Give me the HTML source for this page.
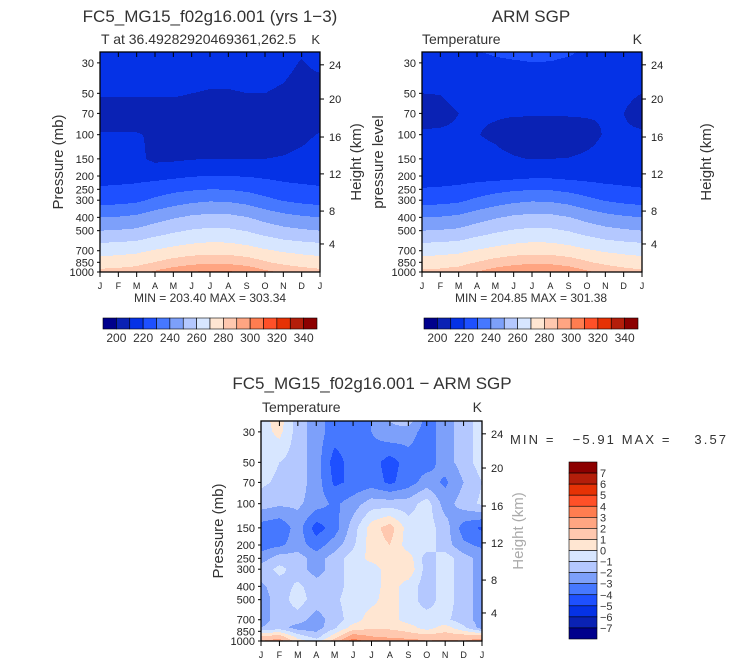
<!DOCTYPE html>
<html><head><meta charset="utf-8">
<style>
html,body{margin:0;padding:0;background:#fff;}
#root{position:relative;width:733px;height:665px;overflow:hidden;font-family:"Liberation Sans",sans-serif;}
canvas{position:absolute;image-rendering:pixelated;}
svg{position:absolute;left:0;top:0;}
svg text{white-space:pre;}
</style></head>
<body>
<div id="root">
<canvas id="c1" width="220" height="220" style="left:100px;top:52px"></canvas>
<canvas id="c2" width="220" height="220" style="left:422px;top:52px"></canvas>
<canvas id="c3" width="221" height="220" style="left:261px;top:421px"></canvas>
<svg id="ov" width="733" height="665"></svg>
</div>
<script>
const months=['J','F','M','A','M','J','J','A','S','O','N','D','J'];
const modelLevels=[25,30,50,70,100,150,200,250,300,400,500,700,850,1000];
const modelT=[
[216,216,216,216,216,216,216,216,216,216,214,211,213],
[214,214,214,214,214,214,213,213,213,213,212,209.5,212],
[211,211,211,211,211,210,209.5,209.5,210,210,209,207,206],
[206,206,206,206,206,206,206,206,206,206,206,206,206],
[210.5,210.5,210.5,209,207,205,204,204,205,206,207,208.5,210.5],
[213,213,212,208,208.5,209.5,210,210,210,210,210.5,211.5,213],
[217,217,217,217,218,219.5,220,220,219.5,218.5,217.5,217,217],
[221,221.5,222.5,225,227.5,229,230,229.7,228,225.5,223.2,222,221],
[226,226.6,228,231.9,235.1,237.7,239,238.6,236.4,232.5,229.3,227.3,226],
[240,240.6,242,245.9,249.1,251.7,253,252.6,250.4,246.5,243.3,241.3,240],
[250,250.6,251.8,255.4,258.4,260.8,262,261.6,259.6,256,253,251.2,250],
[266.5,267,268,270.8,273.2,275,276,275.7,274.1,271.3,268.9,267.5,266.5],
[274,274.7,276.1,280.3,283.8,286.6,288,287.6,285.2,281,277.5,275.4,274],
[283,284,285.9,291.6,296.3,300.1,302,301.4,298.2,292.5,287.8,284.9,283]];
const armLevels=[25,30,50,70,100,150,200,250,300,400,500,700,850,1000];
const armT=[
[217,217,217,219.5,221.5,222.5,223,223,221.5,218,216,216,217],
[215,215,215,216,218,219,219.8,219.5,218,215.5,214.5,214.5,215],
[210,210.2,212,212,212,212,212,212,212,212,212,211.5,210],
[207,208,210,210.6,210.6,210.6,210.6,210.6,210.6,210.6,210.3,210,207],
[211,211,211,210.2,209,207,206,206,206.5,208,210.5,211,211],
[213,213,213,212,211.5,210.5,209.8,210,210.2,211,212,213,213],
[216,216,216,216,216,217,218,218,217,216.5,216,216,216],
[220.5,221,222,224.5,227,228.5,229.5,229.2,227.5,225,222.8,221.5,220.5],
[226,226.6,228,231.9,235.1,237.7,239,238.6,236.4,232.5,229.3,227.3,226],
[240,240.6,242,245.9,249.1,251.7,253,252.6,250.4,246.5,243.3,241.3,240],
[250,250.6,251.8,255.4,258.4,260.8,262,261.6,259.6,256,253,251.2,250],
[266.5,267,268,270.8,273.2,275,276,275.7,274.1,271.3,268.9,267.5,266.5],
[274,274.7,276.1,280.3,283.8,286.6,288,287.6,285.2,281,277.5,275.4,274],
[282,283,285,290.5,295,298.5,300.5,300,297,291.5,287,284,282]];
const diffLevels=[25,30,50,70,100,150,200,250,300,400,500,700,800,925,1000];
const diffT=[
[-0.5,0.5,-1.5,-2.5,-3.5,-3.5,-3,-2,-1.5,-3.5,-2.5,-1.5,-0.5],
[-0.5,0.3,-1.5,-2.5,-3.5,-3.5,-3,-2.2,-2.5,-3.5,-2.5,-1.5,-0.5],
[-0.5,-1,-1.5,-2.5,-4.5,-3.5,-3.5,-4.5,-3.5,-3.5,-2.5,-1.5,-0.5],
[-0.8,-1.2,-1.5,-2.5,-4.2,-3.8,-3.5,-4.2,-3.5,-2.5,-3.2,-2,-1],
[-1.5,-1.8,-1.8,-2.5,-3.2,-2.5,-1.5,-1.5,-1.5,-0.5,-2.5,-1.5,-0.8],
[-3.5,-3.8,-2.5,-4.5,-3.5,-1.5,0.5,1.5,-0.5,-0.5,-1.5,-3.5,-4.2],
[-3.5,-3.2,-2.5,-3.5,-2.5,-1.2,0.5,1,-0.5,-0.5,-1.5,-2.8,-3.2],
[-2.5,-1.5,-1.5,-2.5,-1.5,-0.5,0.3,0.5,0.5,-1.5,-0.5,-1.5,-2.5],
[-1.5,-0.7,-1.5,-2.5,-1.5,-0.5,-0.5,0.5,0.8,-1.5,-0.5,-1.5,-2.5],
[-2.2,-1.5,-0.8,-1.5,-1.5,-0.5,-0.5,0.5,-0.5,-1.5,-0.5,-1.5,-2.5],
[-2.5,-1.5,-0.5,-1.5,-1.2,-0.5,-0.3,0.5,-0.5,-1.5,-0.5,-1.5,-2.5],
[-2.5,-1.5,-1.5,-2.5,-1.5,-0.5,0.5,0.5,-0.5,-0.5,-0.8,-1.5,-2.5],
[-2,-1.5,-2.5,-2.5,-1.2,0.5,0.8,0.8,0.5,-0.5,0.5,-0.8,-2.5],
[1,1.5,-0.5,-1.5,0.5,2.5,2,1.8,1.5,1.5,1.5,1.5,1.5],
[2,2.5,0.5,-0.5,1.5,3.5,2.5,2.5,2.5,2,2.2,2,2.5]];
const tempBounds=[200,210,220,230,240,250,260,270,280,290,300,310,320,330,340];
const tempLabels=['200','220','240','260','280','300','320','340'];
const diffBounds=[-7,-6,-5,-4,-3,-2,-1,0,1,2,3,4,5,6,7];
const diffLabels=['7','6','5','4','3','2','1','0','\u22121','\u22122','\u22123','\u22124','\u22125','\u22126','\u22127'];
const pTicks=[30,50,70,100,150,200,250,300,400,500,700,850,1000];
const hTicks=[4,8,12,16,20,24];
const hTickP=[625,360,193,104,55,31];
const colors=['#00008c','#0a22b4','#0532e6','#1e50ff','#4678ff','#7da0fa','#b4c8ff','#d7e6ff','#ffe6d2','#ffc8af','#ffa582','#ff7d50','#ff5028','#e63205','#b41e0a','#8c0000'];

function hex(c){return [parseInt(c.slice(1,3),16),parseInt(c.slice(3,5),16),parseInt(c.slice(5,7),16)];}
const rgb=colors.map(hex);
const LN=Math.log(1000/25);
function render(id,levels,grid,bounds){
  const cv=document.getElementById(id),ctx=cv.getContext('2d');
  const W=cv.width,H=cv.height,img=ctx.createImageData(W,H);
  const ll=levels.map(p=>Math.log(p));
  for(let py=0;py<H;py++){
    const lnp=Math.log(1000)-(H-(py+0.5))/H*LN;
    let i=0;while(i<levels.length-2&&lnp>ll[i+1])i++;
    let t=(lnp-ll[i])/(ll[i+1]-ll[i]);t=Math.max(0,Math.min(1,t));
    for(let px=0;px<W;px++){
      const m=(px+0.5)/W*12;let j=Math.min(11,Math.floor(m));const f=m-j;
      const a=grid[i][j]*(1-f)+grid[i][j+1]*f,b=grid[i+1][j]*(1-f)+grid[i+1][j+1]*f;
      const v=a*(1-t)+b*t;let k=0;while(k<bounds.length&&v>=bounds[k])k++;
      const c=rgb[k],o=(py*W+px)*4;img.data[o]=c[0];img.data[o+1]=c[1];img.data[o+2]=c[2];img.data[o+3]=255;
    }
  }
  ctx.putImageData(img,0,0);
}
render('c1',modelLevels,modelT,tempBounds);
render('c2',armLevels,armT,tempBounds);
render('c3',diffLevels,diffT,diffBounds);

const NS='http://www.w3.org/2000/svg',ov=document.getElementById('ov');
function el(tag,attrs,txt){const e=document.createElementNS(NS,tag);for(const k in attrs)e.setAttribute(k,attrs[k]);if(txt!==undefined)e.textContent=txt;ov.appendChild(e);return e;}
function yP(T,H,p){return T+H-Math.log(1000/p)/LN*H;}
function axes(L,T,W,H,leftLab,leftX,rightLab,rightX,rightColor){
  const f=el('rect',{x:L,y:T,width:W,height:H,fill:'none',stroke:'#000','stroke-width':1.3});
  
  
  months.forEach((m,i)=>{
    const x=L+i*W/12;
    const tk=el('path',{d:`M${x} ${T+H}v5M${x} ${T}v5`,stroke:'#000','stroke-width':1});
    
    
    const t=el('text',{x:x,y:T+H+17,'font-size':9,'text-anchor':'middle',fill:'#222'},m);
    
    
  });
  pTicks.forEach(p=>{
    const y=yP(T,H,p);
    const tk=el('path',{d:`M${L} ${y}h-3`,stroke:'#000'});
    
    
    const t=el('text',{x:L-6,y:y+4,'font-size':11,'text-anchor':'end',fill:'#222'},String(p));
    
    
  });
  hTicks.forEach((h,i)=>{
    const y=yP(T,H,hTickP[i]);
    const tk=el('path',{d:`M${L+W} ${y}h4`,stroke:'#000'});
    
    
    const t=el('text',{x:L+W+9,y:y+4,'font-size':11,fill:'#222'},String(h));
    
    
  });
  const cy=T+H/2;
  const a=el('text',{x:0,y:0,'font-size':15,'text-anchor':'middle',fill:'#333',transform:`translate(${leftX} ${cy}) rotate(-90)`},leftLab);
  
  
  const b=el('text',{x:0,y:0,'font-size':15,'text-anchor':'middle',fill:rightColor,transform:`translate(${rightX} ${cy}) rotate(-90)`},rightLab);
  
  
}
axes(100,52,220,220,'Pressure (mb)',63,'Height (km)',361,'#333');
axes(422,52,220,220,'pressure level',383,'Height (km)',711,'#333');
axes(261,421,221,220,'Pressure (mb)',223,'Height (km)',523,'#aaa');

function txt(x,y,s,size,anchor,name,fill){const t=el('text',{x:x,y:y,'font-size':size,'text-anchor':anchor,fill:fill||'#333'},s);return t;}
txt(210,22,'FC5_MG15_f02g16.001 (yrs 1\u22123)',17,'middle','left-title');
txt(101,44,'T at 36.49282920469361,262.5',14,'start','left-subtitle');
txt(320,44,'K',13,'end','left-units');
txt(531,22,'ARM SGP',17,'middle','right-title');
txt(422,44,'Temperature',14,'start','right-subtitle');
txt(642,44,'K',14,'end','right-units');
txt(210,302,'MIN = 203.40 MAX = 303.34',12,'middle','left-min-max');
txt(531,302,'MIN = 204.85 MAX = 301.38',12,'middle','right-min-max');
txt(372,389,'FC5_MG15_f02g16.001 \u2212 ARM SGP',17,'middle','diff-title');
txt(262,412,'Temperature',14,'start','diff-subtitle');
txt(482,412,'K',14,'end','diff-units');
const mm=txt(510,444,'MIN =   \u22125.91 MAX =    3.57',13,'start','diff-min-max');
mm.setAttribute('textLength','216');

function hbar(x0,name){
  const bw=214/16;
  colors.forEach((c,i)=>{
    const r=el('rect',{x:x0+i*bw,y:318,width:bw,height:11,fill:c,stroke:'#000','stroke-width':0.6});
    
    
  });
  tempLabels.forEach((s,i)=>{
    const t=el('text',{x:x0+(1+2*i)*bw,y:342,'font-size':12,'text-anchor':'middle',fill:'#333'},s);
    
    
  });
}
hbar(103,'left-colorbar');hbar(424,'right-colorbar');
const vbh=177/16;
colors.slice().reverse().forEach((c,i)=>{
  const r=el('rect',{x:569,y:462+i*vbh,width:28,height:vbh,fill:c,stroke:'#000','stroke-width':0.6});
  
  
});
diffLabels.forEach((s,i)=>{
  const t=el('text',{x:600,y:462+(i+1)*vbh+4,'font-size':11,fill:'#333'},s);
  
  
});
</script>
</body></html>
